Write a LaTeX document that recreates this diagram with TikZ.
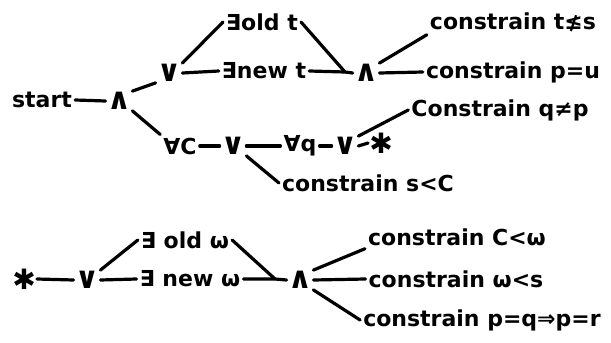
\documentclass[tikz,border=0pt]{standalone}
\usepackage{fontspec}
\setmainfont{DejaVu Sans}
\begin{document}
\begin{tikzpicture}[x=1pt,y=-1pt,
  every node/.style={font=\fontsize{22}{26}\selectfont\bfseries, inner sep=3pt},
  op/.style={font=\fontsize{30}{34}\selectfont\bfseries, inner sep=1pt},
  starnode/.style={font=\fontsize{28}{32}\selectfont\bfseries, inner sep=1pt},
  link/.style={line width=3.2pt, line cap=round}]
\useasboundingbox (0,0) rectangle (611,343);
% top tree
\node (start) at (42,100) {start};
\node[op] (and1) at (119,101) {∧};
\node[op] (or1) at (169,73) {∨};
\node (newt) at (264,71) {∃new t};
\node (oldt) at (262,22) {∃old t};
\coordinate (j1) at (345,72);
\node[op] (and2) at (366,73) {∧};
\node (c1) at (513,22) {constrain t≰s};
\node (c2) at (513,72) {constrain p=u};
\node (allC) at (180,146) {∀C};
\node[op] (or2) at (233,146) {∨};
\node (allq) at (300,146) {∀q};
\node[op] (or3) at (345,146) {∨};
\node[starnode] (star1) at (381,143) {✱};
\node (c3) at (500,110) {Constrain q≠p};
\node (c4) at (368,183) {constrain s<C};
% bottom tree
\node[starnode] (star2) at (24,279) {✱};
\node[op] (or4) at (87,280) {∨};
\node (neww) at (190,279) {∃ new ω};
\node (oldw) at (185,240) {∃ old ω};
\coordinate (j2) at (275,279);
\node[op] (and3) at (300,280) {∧};
\node (c5) at (457,237) {constrain C<ω};
\node (c6) at (456,279) {constrain ω<s};
\node (c7) at (482,320) {constrain p=q⇒p=r};
% connectors
\draw[link] (start.east) -- (and1.west);
\draw[link] (and1.north east) -- (or1.south west);
\draw[link] (or1.east) -- (newt.west);
\draw[link] (or1.north east) -- (oldt.west);
\draw[link] (oldt.east) -- (j1);
\draw[link] (newt.east) -- (j1) -- (and2.west);
\draw[link] (and2.north east) -- (c1.south west);
\draw[link] (and2.east) -- (c2.west);
\draw[link] (and1.south east) -- (allC.north west);
\draw[link] (allC.east) -- (or2.west);
\draw[link] (or2.east) -- (allq.west);
\draw[link] (allq.east) -- (or3.west);
\draw[link] (or3.east) -- (star1.west);
\draw[link] (or3.north east) -- (c3.west);
\draw[link] (or2.south east) -- (c4.west);
\draw[link] (star2.east) -- (or4.west);
\draw[link] (or4.east) -- (neww.west);
\draw[link] (or4.north east) -- (oldw.west);
\draw[link] (oldw.east) -- (j2);
\draw[link] (neww.east) -- (j2) -- (and3.west);
\draw[link] (and3.north east) -- (c5.south west);
\draw[link] (and3.east) -- (c6.west);
\draw[link] (and3.south east) -- (c7.west);
\end{tikzpicture}
\end{document}
